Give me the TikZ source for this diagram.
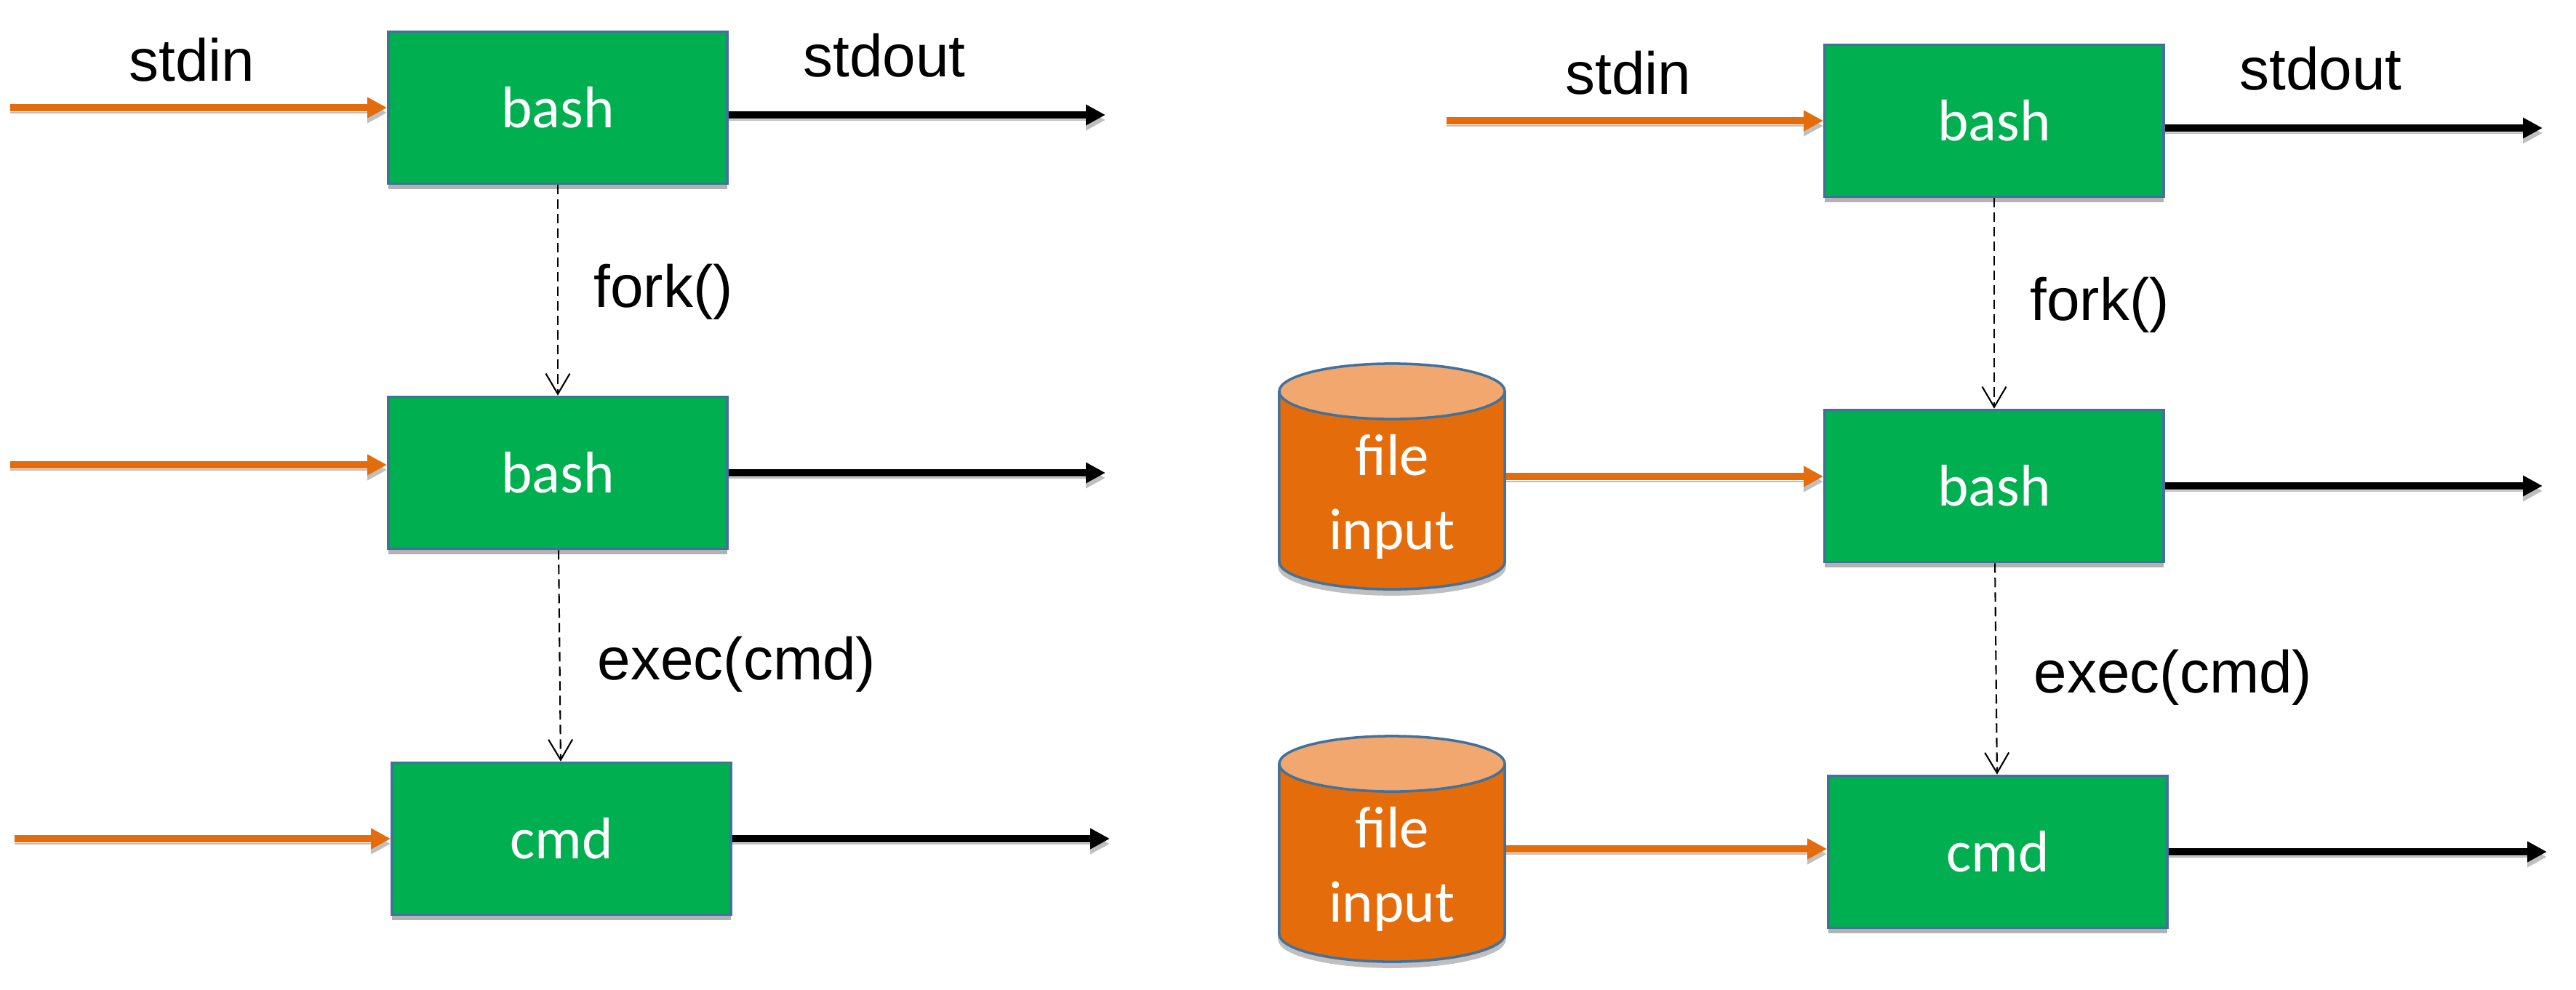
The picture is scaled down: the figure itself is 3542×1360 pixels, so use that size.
\documentclass[tikz,border=0pt]{standalone}
\usepackage{fontspec}
\setmainfont{Liberation Sans}
\newfontfamily\boxfont{Carlito}
\usetikzlibrary{arrows.meta,shapes.geometric,shadows}
\definecolor{boxgreen}{RGB}{0,176,80}
\definecolor{pipeorange}{RGB}{228,108,10}
\definecolor{canlight}{RGB}{241,167,109}
\definecolor{edgeblue}{RGB}{65,113,156}
\tikzset{
  softshadow/.style={drop shadow={shadow xshift=0cm,shadow yshift=-0.07cm,opacity=0.3,fill=black}},
  procbox/.style={draw=edgeblue,line width=1pt,fill=boxgreen,text=white,font=\boxfont\fontsize{23}{27}\selectfont,
    minimum width=4.66cm,minimum height=2.09cm,softshadow},
  canbase/.style={cylinder,shape border rotate=90,shape aspect=0.44,line width=1pt,anchor=shape center,
    minimum width=3.1cm,minimum height=3.1cm,inner sep=0pt,cylinder uses custom fill,align=center,
    font=\boxfont\fontsize{23}{29}\selectfont},
  canshade/.style={canbase,draw=black!25,cylinder body fill=black!25,cylinder end fill=black!25,text=black!25},
  filecan/.style={canbase,draw=edgeblue,cylinder body fill=pipeorange,cylinder end fill=canlight,text=white},
  inpipe/.style={pipeorange,line width=2.6pt,-{Triangle[length=0.27cm,width=0.27cm]},
    preaction={draw=black!25,transform canvas={yshift=-0.07cm}}},
  outpipe/.style={black,line width=2.6pt,-{Triangle[length=0.27cm,width=0.27cm]},
    preaction={draw=black!25,transform canvas={yshift=-0.07cm}}},
  spawn/.style={black,line width=0.6pt,dash pattern=on 0.13cm off 0.07cm,-{Straight Barb[length=0.28cm,width=0.33cm]}},
  lbl/.style={font=\fontsize{23.3}{27}\selectfont,anchor=base}
}
\begin{document}
\begin{tikzpicture}[x=0.01cm,y=-0.01cm]
    \useasboundingbox (0,0) rectangle (3542,1360);
    % Left: stdin from the terminal
    \node[procbox] (bashA) at (767,148) {bash};
    \node[procbox] (bashB) at (767,650) {bash};
    \node[procbox] (cmdA) at (772,1153) {cmd};
    \coordinate (inA) at (14,148); \coordinate (outA) at (1520,158);
    \coordinate (inB) at (14,639); \coordinate (outB) at (1520,650);
    \coordinate (inC) at (20,1153); \coordinate (outC) at (1526,1153);
    \draw[inpipe] (inA)--(inA -| bashA.west);
    \draw[inpipe] (inB)--(inB -| bashB.west);
    \draw[inpipe] (inC)--(inC -| cmdA.west);
    \draw[outpipe] (outA -| bashA.east)--(outA);
    \draw[outpipe] (outB -| bashB.east)--(outB);
    \draw[outpipe] (outC -| cmdA.east)--(outC);
    \draw[spawn] (bashA)--(bashB);
    \draw[spawn] (bashB)--(cmdA);
    \node[lbl] (stdinA) at (264,111) {stdin};
    \node[lbl] (stdoutA) at (1216,105) {stdout};
    \node[lbl] (forkA) at (912,422) {fork()};
    \node[lbl] (execA) at (1013,934) {exec(cmd)};

    % Right: stdin from a file
    \begin{scope}[shift={(1975,18)}]
        \node[procbox] (bashC) at (767,148) {bash};
        \node[procbox] (bashD) at (767,650) {bash};
        \node[procbox] (cmdB) at (772,1153) {cmd};
        \coordinate (inE) at (-61,637); \coordinate (inF) at (-61,1149);
        \node[canshade] (shadeA) at (-61,644) {\phantom{input}};
        \node[canshade] (shadeB) at (-61,1156) {\phantom{input}};
        \node[filecan] (fileA) at (inE) {\rule{0pt}{0.72cm}file\\input};
        \node[filecan] (fileB) at (inF) {\rule{0pt}{0.72cm}file\\input};
        \coordinate (inD) at (14,148); \coordinate (outD) at (1521,158);
        \coordinate (outE) at (1521,650); \coordinate (outF) at (1527,1153);
        \draw[inpipe] (inD)--(inD -| bashC.west);
        \draw[inpipe] (inE -| fileA.east)--(inE -| bashD.west);
        \draw[inpipe] (inF -| fileB.east)--(inF -| cmdB.west);
        \draw[outpipe] (outD -| bashC.east)--(outD);
        \draw[outpipe] (outE -| bashD.east)--(outE);
        \draw[outpipe] (outF -| cmdB.east)--(outF);
        \draw[spawn] (bashC)--(bashD);
        \draw[spawn] (bashD)--(cmdB);
        \node[lbl] (stdinB) at (264,111) {stdin};
        \node[lbl] (stdoutB) at (1216,105) {stdout};
        \node[lbl] (forkB) at (912,422) {fork()};
        \node[lbl] (execB) at (1013,934) {exec(cmd)};
    \end{scope}
\end{tikzpicture}
\end{document}
